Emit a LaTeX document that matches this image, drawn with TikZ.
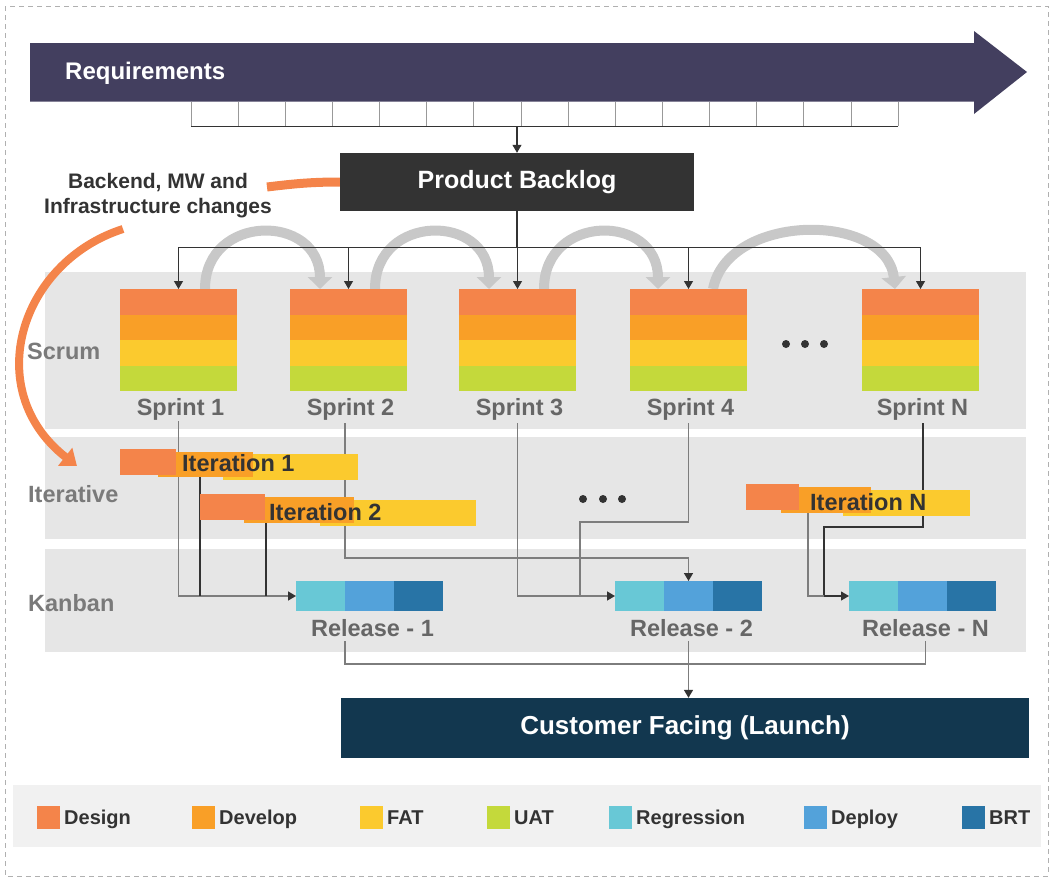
\documentclass[tikz,border=0pt]{standalone}
\usepackage{fontspec}
\setmainfont{Liberation Sans}
\usetikzlibrary{arrows.meta,calc}
\pgfdeclarelayer{bg}
\pgfdeclarelayer{arcs}
\pgfdeclarelayer{lines}
\pgfsetlayers{bg,arcs,lines,main}
\definecolor{reqc}{HTML}{433F5F}
\definecolor{blogc}{HTML}{333333}
\definecolor{bandc}{HTML}{E6E6E6}
\definecolor{labc}{HTML}{7A7A7A}
\definecolor{sprc}{HTML}{666666}
\definecolor{desc}{HTML}{F4844A}
\definecolor{devc}{HTML}{F99F27}
\definecolor{fatc}{HTML}{FBCA2E}
\definecolor{uatc}{HTML}{C4D93B}
\definecolor{regc}{HTML}{68C8D6}
\definecolor{depc}{HTML}{53A2DA}
\definecolor{brtc}{HTML}{2874A6}
\definecolor{custc}{HTML}{12374F}
\definecolor{legc}{HTML}{F1F1F1}
\definecolor{txtc}{HTML}{333333}
\definecolor{linec}{HTML}{333333}
\definecolor{glinec}{HTML}{7D7D7D}
\definecolor{arcc}{HTML}{C8C8C8}
\definecolor{framec}{HTML}{B0B0B0}
\definecolor{tickc}{HTML}{999999}
\newcommand{\myfs}[1]{\fontsize{#1}{#1}\selectfont\bfseries}
\begin{document}
\begin{tikzpicture}[x=1pt,y=-1pt,
  box/.style={anchor=north west, inner sep=0pt, outer sep=0pt, draw=none},
  tip/.style={-{Triangle[length=8pt,width=9pt,color=linec]}},
  dline/.style={draw=linec, line width=1.1pt},
  gline/.style={draw=glinec, line width=1.5pt},
  bandlab/.style={text=labc, font=\myfs{23.5}, anchor=west, inner sep=0pt},
  sprlab/.style={text=sprc, font=\myfs{23.5}, inner sep=0pt},
  ittext/.style={text=txtc, font=\myfs{23.5}, anchor=west, inner sep=0pt},
  legtext/.style={text=txtc, font=\myfs{20}, anchor=base west, inner sep=0pt},
  swatch/.style={box, minimum width=23, minimum height=23},
  arcarrow/.style={draw=arcc, line width=10pt, -{Triangle[length=12pt,width=24pt]}},
]
\useasboundingbox (0,0) rectangle (1054,881);
\begin{pgfonlayer}{bg}
  \draw[framec, line width=0.8pt, dash pattern=on 5pt off 4pt] (5,6) rectangle (1048,876);
  \node[box, fill=bandc, minimum width=981, minimum height=157] (scrum) at (45,272) {};
  \node[box, fill=bandc, minimum width=981, minimum height=102] (iter) at (45,437) {};
  \node[box, fill=bandc, minimum width=981, minimum height=103] (kanban) at (45,549) {};
  \node[box, fill=legc, minimum width=1028, minimum height=62] (legend) at (13,785) {};
\end{pgfonlayer}

% Requirements arrow
\fill[reqc] (30,43) -- (974,43) -- (974,31) -- (1027,72) -- (974,114) -- (974,101.5) -- (30,101.5) -- cycle;
\node[anchor=west, inner sep=0pt, text=white, font=\myfs{24}] (req) at (65,73) {Requirements};

% tick boxes
\node[box, minimum width=707, minimum height=24.5] (ticks) at (191,101.5) {};
\foreach \i in {0,...,15} \draw[tickc, line width=0.7pt] (191+47.133*\i,101.5) -- ++(0,24.5);
\draw[linec, line width=1pt] (ticks.south west) -- (ticks.south east);

% product backlog
\node[fill=blogc, minimum width=354, minimum height=58, inner sep=0pt, text=white, font=\myfs{25}] (backlog) at (517,182) {Product Backlog};
\draw[dline, tip] (backlog.north |- ticks.south) -- (backlog.north);

% backend text and orange arrow
\node[align=center, text=txtc, font={\fontsize{21}{25}\selectfont\bfseries}, inner sep=0pt] (bk) at (158,196) {Backend, MW and\\Infrastructure changes};
\draw[desc, line width=9pt] (backlog.west) .. controls +(-30,0) and +(25,-3) .. (267,187) coordinate (oastub);
\coordinate (oa) at (123,229);
\coordinate (oaend) at (77,466);
\draw[desc, line width=8pt, -{Triangle[length=15pt,width=22pt]}] (oa) .. controls (20,262) and (-20,390) .. (oaend);

% band labels
\node[bandlab] (lscrum) at (27,351) {Scrum};
\node[bandlab] (liter) at (28,494) {Iterative};
\node[bandlab] (lkanban) at (28,603) {Kanban};

% sprints
\foreach \n/\x/\t in {s1/120/Sprint 1, s2/290/Sprint 2, s3/459/Sprint 3, s4/630/Sprint 4, s5/862/Sprint N} {
  \node[box, minimum width=117, minimum height=102] (\n) at (\x,289) {};
  \fill[desc] (\x,289) rectangle ++(117,25.5);
  \fill[devc] (\x,314.5) rectangle ++(117,25.5);
  \fill[fatc] (\x,340) rectangle ++(117,25.5);
  \fill[uatc] (\x,365.5) rectangle ++(117,25.5);
  \node[sprlab] (\n-l) at ($(\n.south)+(2,18.5)$) {\t};
}

% dots
\foreach \x in {786,805,824} \fill[txtc] (\x,344) circle (4);
\foreach \x in {583,603,622} \fill[txtc] (\x,499) circle (4);

% iterations
\node[box, fill=fatc, minimum width=135, minimum height=26] (i1f) at (223,454) {};
\node[box, fill=devc, minimum width=95, minimum height=25] (i1d) at (158,452) {};
\node[box, fill=desc, minimum width=56, minimum height=26] (i1s) at (120,449) {};
\node[ittext] (i1) at (182,463) {Iteration 1};

\node[box, fill=fatc, minimum width=156, minimum height=26] (i2f) at (320,500) {};
\node[box, fill=devc, minimum width=110, minimum height=26] (i2d) at (244,497) {};
\node[box, fill=desc, minimum width=65, minimum height=26] (i2s) at (200,494) {};
\node[ittext] (i2) at (269,512) {Iteration 2};

\node[box, fill=fatc, minimum width=127, minimum height=26] (iNf) at (843,490) {};
\node[box, fill=devc, minimum width=90, minimum height=26] (iNd) at (781,487) {};
\node[box, fill=desc, minimum width=53, minimum height=26] (iNs) at (746,484) {};
\node[ittext] (iN) at (810,502) {Iteration N};

% releases
\foreach \n/\x/\t in {r1/296/Release - 1, r2/615/Release - 2, r3/849/Release - N} {
  \node[box, minimum width=147, minimum height=30] (\n) at (\x,581) {};
  \fill[regc] (\x,581) rectangle ++(49,30);
  \fill[depc] (\x+49,581) rectangle ++(49,30);
  \fill[brtc] (\x+98,581) rectangle ++(49,30);
  \node[sprlab] (\n-l) at ($(\n.south)+(3,17.5)$) {\t};
}

% customer facing
\node[fill=custc, minimum width=688, minimum height=60, inner sep=0pt, text=white, font=\myfs{26}] (cust) at (685,728) {Customer Facing (Launch)};

% legend
\foreach \c/\x/\t in {desc/37/Design, devc/192/Develop, fatc/360/FAT, uatc/487/UAT, regc/609/Regression, depc/804/Deploy, brtc/962/BRT} {
  \node[swatch, fill=\c] (lg\t) at (\x,806) {};
  \node[legtext] (lt\t) at ($(lg\t.east)+(4,7.2)$) {\t};
}

% gray sprint-to-sprint arcs
\begin{pgfonlayer}{arcs}
  \draw[arcarrow] ($(s1.north west)+(85,0)$) .. controls +(0,-76) and +(0,-76) .. ($(s2.north west)+(30,0)$);
  \draw[arcarrow] ($(s2.north west)+(85,0)$) .. controls +(0,-76) and +(0,-76) .. ($(s3.north west)+(30,0)$);
  \draw[arcarrow] ($(s3.north west)+(85,0)$) .. controls +(0,-76) and +(0,-76) .. ($(s4.north west)+(28,0)$);
  \draw[arcarrow] ($(s4.north west)+(83,0)$) .. controls +(15,-77) and +(-8,-77) .. ($(s5.north west)+(33,0)$);
\end{pgfonlayer}

% connectors
\begin{pgfonlayer}{lines}
  \draw[dline] (backlog.south) -- ++(0,36) coordinate (bus);
  \draw[dline] (s1.north |- bus) -- (s5.north |- bus);
  \foreach \s in {s1,s2,s3,s4,s5} \draw[dline, tip] (\s.north |- bus) -- (\s.north);

  \draw[gline, tip] ($(s1.south)+(0,30)$) |- (r1.west);
  \coordinate (i1c) at ($(i1d.south west)+(42,0)$);
  \draw[dline] (i1c) -- (i1c |- r1.west);
  \coordinate (i2c) at ($(i2d.south west)+(22,0)$);
  \draw[dline] (i2c) -- (i2c |- r1.west);

  \draw[gline, tip] ($(s2.south)+(-3.5,32)$) |- ($(r2.north)+(0,-23)$) -- (r2.north);
  \draw[gline, tip] ($(s3.south)+(0,32)$) |- (r2.west);
  \coordinate (s4k) at ($(r2.west)+(-35,-74)$);
  \draw[gline] ($(s4.south)+(0,32)$) |- (s4k) -- (s4k |- r2.west);

  \coordinate (s5k) at ($(r3.west)+(-25,-69)$);
  \draw[dline, tip] ($(s5.south)+(2.5,32)$) |- (s5k) |- (r3.west);
  \coordinate (iNc) at ($(iNd.south west)+(27,0)$);
  \draw[gline] (iNc) |- (s5k |- r3.west);

  \coordinate (cj) at ($(cust.north)+(0,-34)$);
  \coordinate (r1o) at ($(r1.south west)+(49,0)$);
  \draw[gline] ($(r1o |- r1-l.south)+(0,4)$) -- (r1o |- cj) -- (r3-l.south |- cj) -- ($(r3-l.south)+(0,4)$);
  \draw[gline, tip] ($(r2.south |- r2-l.south)+(0,4)$) -- (r2.south |- cust.north);
\end{pgfonlayer}
\end{tikzpicture}
\end{document}
